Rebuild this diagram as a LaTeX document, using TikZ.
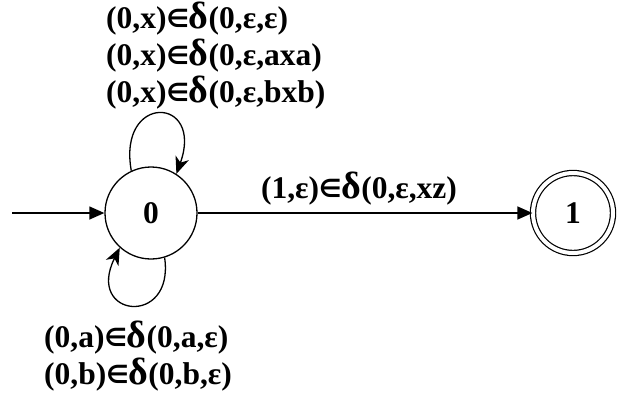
\documentclass[tikz,border=0pt]{standalone}
\usepackage{fontspec}
\setmainfont{Liberation Serif}
\newfontfamily\symf{DejaVu Sans}
\usetikzlibrary{arrows.meta}
\newcommand{\elem}{{\symf\fontsize{25}{25}\selectfont\raisebox{0.05em}{∈}}}
\newcommand{\dlt}{{\fontsize{38}{38}\selectfont δ}}
\begin{document}
\begin{tikzpicture}[x=1pt,y=-1pt,
  every node/.style={font=\fontsize{31.5}{37}\selectfont\bfseries},
  st/.style={circle,draw,line width=1.3pt,minimum size=92pt,inner sep=0pt},
  acc/.style={circle,draw,double,double distance=4pt,line width=1.2pt,minimum size=80pt,inner sep=0pt},
  tr/.style={line width=1.3pt,-{Triangle[length=15pt,width=13pt]}},
  lp/.style={line width=1.3pt,-{Stealth[length=17pt,width=14pt,inset=5pt]}},
  lbl/.style={align=left,inner sep=0pt}]
\useasboundingbox (0,0) rectangle (620,405);
\node[st] (q0) at (151,213) {0};
\node[acc] (q1) at (573,213) {1};
\coordinate (s) at (12,213);
\draw[tr] (s) -- (q0);
\draw[tr] (q0) -- node[above=7pt,inner sep=0pt,xshift=-6pt] (e1) {(1,ε)\elem\dlt(0,ε,xz)} (q1);
\draw[lp] (q0.115) .. controls +(-14,-78) and +(28,-78) .. (q0.57);
\draw[lp] (q0.287) .. controls +(10,70) and +(-35,70) .. (q0.228);
\node[lbl,anchor=north west] (t) at (106,2) {(0,x)\elem\dlt(0,ε,ε)\\(0,x)\elem\dlt(0,ε,axa)\\(0,x)\elem\dlt(0,ε,bxb)};
\node[lbl,anchor=north west] (b) at (44,321) {(0,a)\elem\dlt(0,a,ε)\\(0,b)\elem\dlt(0,b,ε)};
\end{tikzpicture}
\end{document}
